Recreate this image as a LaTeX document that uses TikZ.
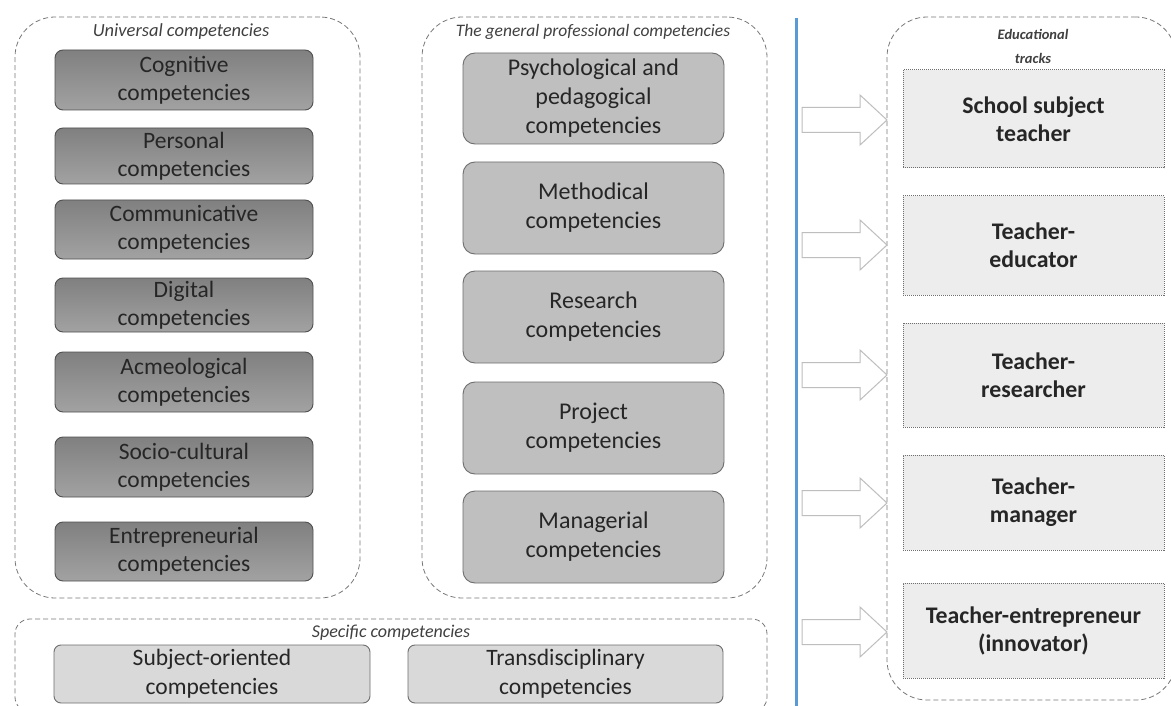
\documentclass[tikz,border=0pt]{standalone}
\usepackage{fontspec}
\setmainfont{Carlito}
\usetikzlibrary{calc}
\definecolor{txt}{RGB}{38,38,38}
\definecolor{ttl}{RGB}{64,64,64}
\definecolor{cont}{RGB}{120,120,120}
\definecolor{ldark}{RGB}{128,128,128}
\definecolor{llight}{RGB}{162,162,162}
\definecolor{lborder}{RGB}{80,80,80}
\definecolor{mfill}{RGB}{191,191,191}
\definecolor{mborder}{RGB}{110,110,110}
\definecolor{sfill}{RGB}{217,217,217}
\definecolor{rfill}{RGB}{237,237,237}
\definecolor{rborder}{RGB}{110,110,110}
\definecolor{blueline}{RGB}{91,155,213}
\definecolor{arrowline}{RGB}{190,190,190}
\tikzset{
  container/.style={draw=cont, line width=0.8pt, dash pattern=on 5pt off 3pt, rounded corners=40pt, inner sep=0pt},
  ttlstyle/.style={font=\fontsize{17.5}{20}\selectfont\itshape, text=ttl, inner sep=0pt},
  lbox/.style={draw=lborder, line width=0.9pt, rounded corners=8pt, top color=ldark, bottom color=llight, minimum width=258pt, align=center, inner sep=0pt, text=txt, font=\fontsize{23.5}{28}\selectfont},
  mbox/.style={draw=mborder, line width=0.9pt, rounded corners=12pt, fill=mfill, minimum width=261pt, align=center, inner sep=0pt, text=txt, font=\fontsize{24}{29}\selectfont},
  sbox/.style={draw=mborder, line width=0.9pt, rounded corners=7pt, fill=sfill, align=center, inner sep=0pt, text=txt, font=\fontsize{23.5}{29}\selectfont},
  rbox/.style={draw=rborder, line width=1pt, dash pattern=on 1pt off 1pt, fill=rfill, minimum width=261pt, align=center, inner sep=0pt, text=txt, font=\fontsize{23.8}{28}\selectfont\bfseries},
  barrow/.style={draw=arrowline, line width=1pt, fill=white, line join=miter}
}
\begin{document}
\begin{tikzpicture}[x=1pt,y=-1pt]
\clip (0,0) rectangle (1171,706);
\fill[white] (0,0) rectangle (1171,706);

% containers
\node[container, minimum width=345pt, minimum height=581pt] (univ) at (187.5,307.5) {};
\node[container, minimum width=345pt, minimum height=581pt] (gen) at (594.5,307.5) {};
\node[container, rounded corners=15pt, minimum width=752pt, minimum height=93pt] (spec) at (391,665.5) {};
\node[container, minimum width=289pt, minimum height=683pt] (tracks) at (1031.5,358.5) {};

% titles
\node[ttlstyle, font=\fontsize{18.5}{20}\selectfont\itshape] (tuniv) at (181,32) {Universal competencies};
\node[ttlstyle] (tgen) at (593,32) {The general professional competencies};
\node[ttlstyle, font=\fontsize{18}{20}\selectfont\itshape] (tspec) at (391,633) {Specific competencies};
\node[ttlstyle, font=\fontsize{14.5}{24}\selectfont\bfseries\itshape, align=center] (ttracks) at (1033,46) {Educational\\tracks};

% universal boxes
\node[lbox, minimum height=60pt] (cog) at (184,80) {Cognitive\\competencies};
\node[lbox, minimum height=56pt] (pers) at (184,156) {Personal\\competencies};
\node[lbox, minimum height=59pt] (comm) at (184,229.5) {Communicative\\competencies};
\node[lbox, minimum height=54pt] (dig) at (184,305) {Digital\\competencies};
\node[lbox, minimum height=60pt] (acm) at (184,382) {Acmeological\\competencies};
\node[lbox, minimum height=60pt] (soc) at (184,467) {Socio-cultural\\competencies};
\node[lbox, minimum height=59pt] (ent) at (184,551.5) {Entrepreneurial\\competencies};

% general professional boxes
\node[mbox, minimum height=91pt] (psy) at (593.5,98.5) {Psychological and\\pedagogical\\competencies};
\node[mbox, minimum height=92pt] (meth) at (593.5,208) {Methodical\\competencies};
\node[mbox, minimum height=92pt] (res) at (593.5,317) {Research\\competencies};
\node[mbox, minimum height=92pt] (proj) at (593.5,428) {Project\\competencies};
\node[mbox, minimum height=92pt] (man) at (593.5,537) {Managerial\\competencies};

% specific boxes
\node[sbox, minimum width=316pt, minimum height=58pt] (subj) at (212,674) {Subject-oriented\\competencies};
\node[sbox, minimum width=315pt, minimum height=58pt] (trans) at (565.5,674) {Transdisciplinary\\competencies};

% blue line
\coordinate (btop) at (796,18);
\coordinate (bbot) at (796,710);
\draw[blueline, line width=3pt] (btop) -- (bbot);

% track boxes
\node[rbox, minimum height=98pt] (r1) at (1033.5,119) {School subject\\teacher};
\node[rbox, minimum height=99pt] (r2) at (1033.5,245.5) {Teacher-\\educator};
\node[rbox, minimum height=104pt] (r3) at (1033.5,375) {Teacher-\\researcher};
\node[rbox, minimum height=95pt] (r4) at (1033.5,502.5) {Teacher-\\manager};
\node[rbox, minimum height=95pt] (r5) at (1033.5,630.5) {Teacher-entrepreneur\\(innovator)};

% block arrows
\foreach \c in {120,245,375,503,632}{
  \draw[barrow] (802,{\c-12.5}) -- (860,{\c-12.5}) -- (860,{\c-25}) -- (887,\c) -- (860,{\c+25}) -- (860,{\c+12.5}) -- (802,{\c+12.5}) -- cycle;
}
\end{tikzpicture}
\end{document}
